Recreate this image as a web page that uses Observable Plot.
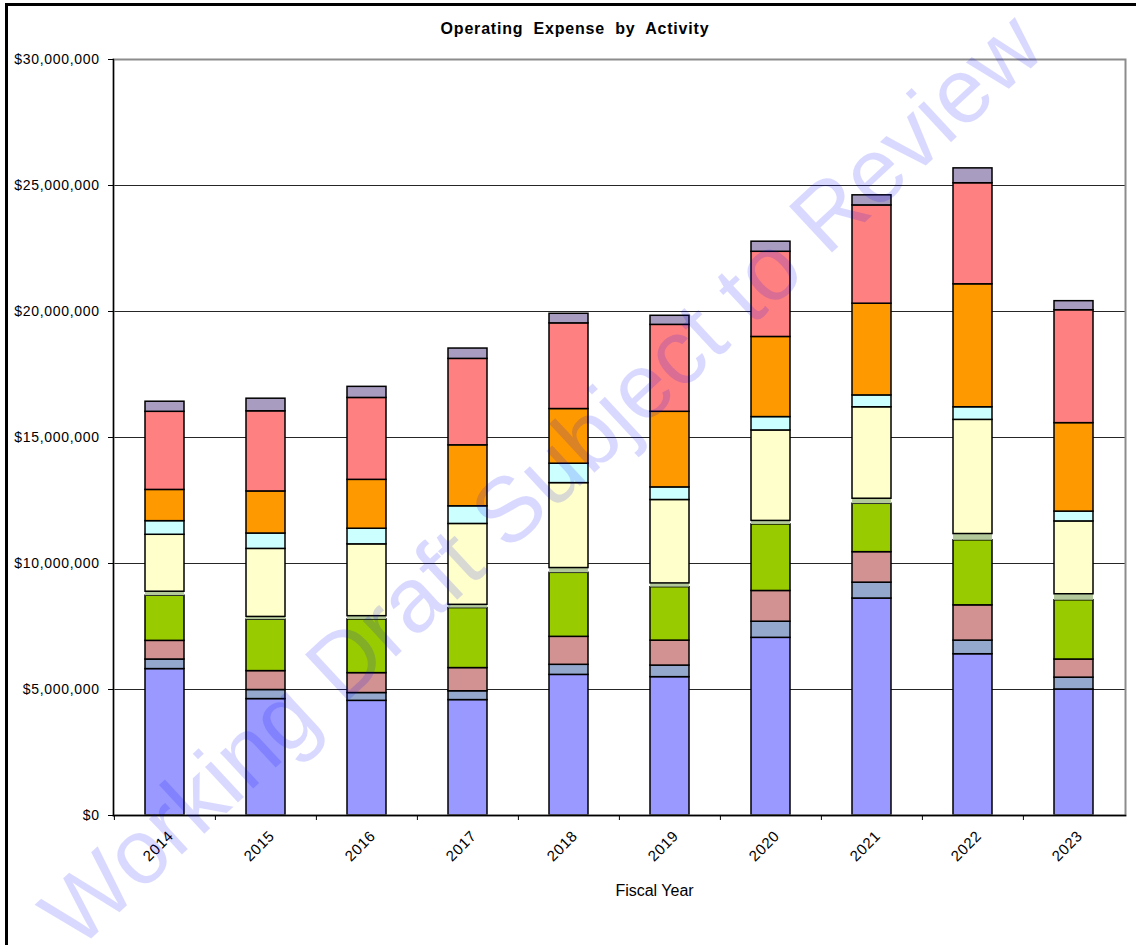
<!DOCTYPE html>
<html>
<head>
<meta charset="utf-8">
<script src="https://cdn.jsdelivr.net/npm/d3@7"></script>
<script src="https://cdn.jsdelivr.net/npm/@observablehq/plot@0.6"></script>
<style>
  html, body { margin: 0; padding: 0; background: #fff; }
  #chart { position: relative; width: 1136px; height: 945px; overflow: hidden; font-family: "Liberation Sans", Arial, sans-serif; }
  #outline { position: absolute; left: 5px; top: 3px; width: 1400px; height: 1200px; border-left: 3px solid #000; border-top: 3px solid #000; }
  #title { position: absolute; left: 325px; width: 500px; top: 21px; text-align: center; font-weight: bold; font-size: 16px; line-height: 16px; letter-spacing: 0.8px; word-spacing: 5px; color: #000; margin: 0; }
  #chart svg { position: absolute; left: 0; top: 0; }
  g[aria-label="y-axis tick label"] { letter-spacing: 0.7px; }
  g[aria-label="x-axis tick label"] { letter-spacing: 0.6px; }
  g[aria-label="axis title"] { letter-spacing: 0.8px; }
</style>
</head>
<body>
<div id="chart">
  <div id="outline"></div>
  <div id="title">Operating Expense by Activity</div>
</div>
<script>
// Fiscal years on the x axis
const years = ["2014", "2015", "2016", "2017", "2018", "2019", "2020", "2021", "2022", "2023"];

// Expense per activity, in millions of dollars, listed from the bottom of each stack up
const activity1  = [5.81, 4.62, 4.55, 4.58, 5.58, 5.49, 7.05, 8.61, 6.40, 5.00];
const activity2  = [0.38, 0.36, 0.31, 0.35, 0.40, 0.46, 0.64, 0.63, 0.54, 0.47];
const activity3  = [0.74, 0.75, 0.79, 0.92, 1.11, 0.99, 1.22, 1.21, 1.40, 0.72];
const activity4  = [1.79, 2.04, 2.13, 2.38, 2.54, 2.12, 2.64, 1.92, 2.58, 2.35];
const activity5  = [0.16, 0.11, 0.13, 0.13, 0.19, 0.15, 0.14, 0.20, 0.25, 0.24];
const activity6  = [2.26, 2.70, 2.85, 3.21, 3.37, 3.31, 3.59, 3.63, 4.53, 2.89];
const activity7  = [0.54, 0.61, 0.62, 0.70, 0.77, 0.50, 0.53, 0.47, 0.50, 0.39];
const activity8  = [1.24, 1.67, 1.94, 2.42, 2.17, 3.00, 3.18, 3.64, 4.88, 3.51];
const activity9  = [3.10, 3.18, 3.25, 3.43, 3.40, 3.45, 3.38, 3.90, 4.01, 4.48];
const activity10 = [0.40, 0.50, 0.44, 0.41, 0.38, 0.36, 0.40, 0.40, 0.59, 0.36];

const activityNames = ["Activity 1", "Activity 2", "Activity 3", "Activity 4", "Activity 5",
                       "Activity 6", "Activity 7", "Activity 8", "Activity 9", "Activity 10"];
const activityColors = ["#9999ff", "#94a8ce", "#d29292", "#99cc00", "#b3c99a",
                        "#ffffcc", "#ccffff", "#ff9900", "#ff8080", "#a89cc0"];

// Y axis ticks, in dollars
const yTicks = [0, 5000000, 10000000, 15000000, 20000000, 25000000, 30000000];

const xTitle = "Fiscal Year";
const watermark = "Working Draft Subject to Review";

// The thin activity is drawn without an outline
const unoutlined = "Activity 5";

const series = [activity1, activity2, activity3, activity4, activity5,
                activity6, activity7, activity8, activity9, activity10];
const rows = [];
series.forEach((vals, i) => vals.forEach((v, j) =>
  rows.push({year: years[j], activity: activityNames[i], value: v * 1e6})));

const marginLeft = 113, marginRight = 11;
const width = 1136;
const step = (width - marginLeft - marginRight) / years.length;
const dollars = d3.format(",");

const chart = Plot.plot({
  width,
  height: 945,
  marginLeft,
  marginRight,
  marginTop: 59,
  marginBottom: 130,
  style: {fontFamily: "'Liberation Sans', Arial, sans-serif", background: "transparent", color: "#000"},
  x: {type: "band", domain: years, paddingInner: 0.61, paddingOuter: 0.305},
  y: {domain: [0, 30000000]},
  color: {domain: activityNames, range: activityColors},
  opacity: {domain: [0, 1], range: [0, 1]},
  marks: [
    Plot.gridY(yTicks.slice(1), {stroke: "#000", strokeOpacity: 0.85, strokeWidth: 1}),
    Plot.barY(rows, {
      x: "year",
      y: "value",
      fill: "activity",
      stroke: "#000",
      strokeWidth: 1.5,
      strokeOpacity: d => d.activity === unoutlined ? 0 : 1
    }),
    Plot.frame({stroke: "#8c8c8c", strokeWidth: 2}),
    Plot.frame({anchor: "left", stroke: "#000", strokeWidth: 1.3}),
    Plot.frame({anchor: "bottom", stroke: "#000", strokeWidth: 1.5}),
    Plot.axisY(yTicks, {
      tickSize: 5,
      tickPadding: 8.7,
      tickFormat: d => "$" + dollars(d),
      fontSize: 14,
      label: null
    }),
    Plot.axisX({tickSize: 5, tickFormat: () => "", dx: -step / 2, label: null}),
    Plot.axisX({tickSize: 0, tickPadding: 18, tickRotate: -45, dx: 6, fontSize: 15, label: null}),
    Plot.text([xTitle], {
      text: d => d,
      frameAnchor: "bottom",
      lineAnchor: "bottom",
      dx: 35,
      dy: 80,
      fontSize: 16,
      ariaLabel: "axis title"
    }),
    Plot.text([watermark], {
      text: d => d,
      frameAnchor: "middle",
      dx: -77,
      dy: 43,
      rotate: -42.8,
      fontSize: 92,
      fill: "#0000ff",
      fillOpacity: 0.15,
      ariaLabel: "watermark"
    })
  ]
});

document.getElementById("chart").appendChild(chart);
</script>
</body>
</html>
